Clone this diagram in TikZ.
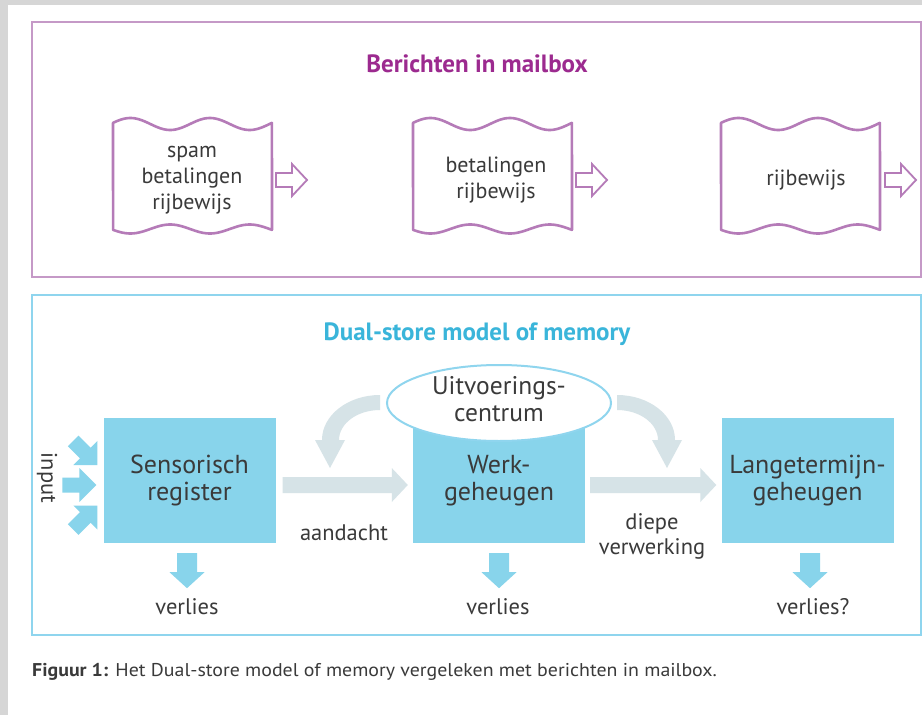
\documentclass[tikz,border=0pt]{standalone}
\usepackage{fontspec}
\setmainfont{PT Sans}
\usetikzlibrary{calc,shapes.geometric}
\definecolor{bggray}{HTML}{D6D6D6}
\definecolor{pborder}{HTML}{C599C7}
\definecolor{pdoc}{HTML}{B57BB8}
\definecolor{ptitle}{HTML}{9C2A8F}
\definecolor{bborder}{HTML}{8FD5EE}
\definecolor{btitle}{HTML}{3AB5DA}
\definecolor{boxblue}{HTML}{88D4EB}
\definecolor{garrow}{HTML}{D6E3E7}
\definecolor{txt}{HTML}{3A3A3A}
\tikzset{
  purplebox/.style={draw=pborder,line width=2pt},
  bluebox/.style={draw=bborder,line width=2pt},
  ptitlestyle/.style={text=ptitle,font=\fontsize{25}{28}\selectfont\bfseries},
  btitlestyle/.style={text=btitle,font=\fontsize{25}{28}\selectfont\bfseries},
  docline/.style={draw=pdoc,line width=2.6pt,fill=white,line join=round},
  doctext/.style={align=center,text=txt,font=\fontsize{22}{26}\selectfont},
  harrowstyle/.style={draw=pdoc,line width=1.8pt,fill=white},
  mbox/.style={fill=boxblue,minimum width=172pt,minimum height=125pt,inner sep=0pt,align=center,text=txt,font=\fontsize{26}{27}\selectfont},
  ellstyle/.style={ellipse,draw=bborder,line width=2pt,fill=white,minimum width=224pt,minimum height=76pt,inner sep=0pt},
  elltext/.style={align=center,text=txt,inner sep=0pt,font=\fontsize{25.5}{27}\selectfont},
  lbl/.style={text=txt,align=center,font=\fontsize{22.5}{25}\selectfont},
  hollow/.pic={\draw[harrowstyle] (0,-7)--(16,-7)--(16,-16)--(31,0)--(16,16)--(16,7)--(0,7)--cycle;},
  downarrow/.pic={\fill[boxblue] (-10,0)--(10,0)--(10,19)--(17.5,19)--(0,35)--(-17.5,19)--(-10,19)--cycle;},
  inarrow/.pic={\fill[boxblue] (-34,-7.5)--(-17,-7.5)--(-17,-17)--(0,0)--(-17,17)--(-17,7.5)--(-34,7.5)--cycle;}
}
\newcommand\wavydoc[4]{% L, T, W, B
  \draw[docline] plot[domain=0:1,samples=90,variable=\u] ({#1+#3*\u},{#2-6*sin(720*\u+11)})
    -- plot[domain=1:0,samples=90,variable=\u] ({#1+#3*\u},{#4+4.5*sin(720*\u+11)}) -- cycle;}
\newcommand\grayarrow[2]{%
  \fill[garrow] let \p1=(#1), \p2=(#2) in
    (\x1,\y1+8pt) -- (\x2-16pt,\y1+8pt) -- (\x2-16pt,\y1+17pt) -- (\x2,\y1)
    -- (\x2-16pt,\y1-17pt) -- (\x2-16pt,\y1-8pt) -- (\x1,\y1-8pt) -- cycle;}
\begin{document}
\begin{tikzpicture}[x=1pt,y=-1pt]
\useasboundingbox (0,0) rectangle (922,715);
\fill[bggray] (0,0) rectangle (922,715);
\fill[white] (8,5) rectangle (922,715);

% ---- top panel ----
\draw[purplebox] (32,22) rectangle (921,277);
\node[ptitlestyle] (ptitle) at (477,64) {Berichten in mailbox};

\wavydoc{113}{124}{159}{229}
\node[doctext] (d1) at (192,180) {spam\\betalingen\\rijbewijs};
\pic at (276,180) {hollow};

\wavydoc{413}{124}{159}{229}
\node[doctext] (d2) at (496,180) {betalingen\\rijbewijs};
\pic at (576,180) {hollow};

\wavydoc{721}{124}{159}{229}
\node[doctext] (d3) at (806,180) {rijbewijs};
\pic at (885,180) {hollow};

% ---- bottom panel ----
\draw[bluebox] (32,295) rectangle (921,635);
\node[btitlestyle] (btitle) at (477,334) {Dual-store model of memory};

\node[mbox] (sens) at (189.5,480.5) {Sensorisch\\register};
\node[mbox] (werk) at (499,480.5) {Werk-\\geheugen};
\node[mbox] (lange) at (807.5,480.5) {Langetermijn-\\geheugen};
\node[ellstyle] (uc) at (499,403) {};
\node[elltext] (uct) at ([yshift=3.5pt]uc.center) {Uitvoerings-\\centrum};

% curved arrows from the executive
\fill[garrow] (617,395) .. controls (649,395) and (675,415.2) .. (675,440)
  -- (682,440) -- (667,468) -- (652,440) -- (658,440)
  .. controls (658,423.4) and (639.6,410) .. (617,410) -- cycle;
\fill[garrow] (380,395) .. controls (348,395) and (322,415.2) .. (322,440)
  -- (315,440) -- (330,468) -- (345,440) -- (339,440)
  .. controls (339,423.4) and (357.4,410) .. (380,410) -- cycle;

% horizontal arrows
\coordinate (g1s) at ([xshift=7pt,yshift=-4.5pt]sens.east);
\coordinate (g1e) at ([xshift=-5pt,yshift=-4.5pt]werk.west);
\coordinate (g2s) at ([xshift=5pt,yshift=-4.5pt]werk.east);
\coordinate (g2e) at ([xshift=-5pt,yshift=-4.5pt]lange.west);
\grayarrow{g1s}{g1e}
\grayarrow{g2s}{g2e}

\node[lbl] (aand) at (344,533) {aandacht};
\node[lbl] (diepe) at (652,536) {diepe\\verwerking};

% input arrows
\coordinate (in1) at ([xshift=-6pt,yshift=15.5pt]sens.west);
\coordinate (in2) at ([xshift=-7pt,yshift=-4.5pt]sens.west);
\coordinate (in3) at ([xshift=-6pt,yshift=-25pt]sens.west);
\pic[rotate=-45] at (in1) {inarrow};
\pic at (in2) {inarrow};
\pic[rotate=45] at (in3) {inarrow};
\node[lbl,rotate=-90] (input) at (47,478) {input};

% loss arrows
\coordinate (v1) at ([yshift=-10pt,xshift=-2.5pt]sens.south);
\coordinate (v2) at ([yshift=-10pt]werk.south);
\coordinate (v3) at ([yshift=-10pt,xshift=2.5pt]lange.south);
\pic at (v1) {downarrow};
\pic at (v2) {downarrow};
\pic at (v3) {downarrow};
\node[lbl] (l1) at (187,607) {verlies};
\node[lbl] (l2) at (498,607) {verlies};
\node[lbl] (l3) at (813,607) {verlies?};

% caption
\node[anchor=base west,inner sep=0pt,text=txt,font=\fontsize{18.5}{20}\selectfont] (cap) at (32,676)
  {\scalebox{1.075}[1]{\textbf{Figuur 1:} Het Dual-store model of memory vergeleken met berichten in mailbox.}};
\end{tikzpicture}
\end{document}
